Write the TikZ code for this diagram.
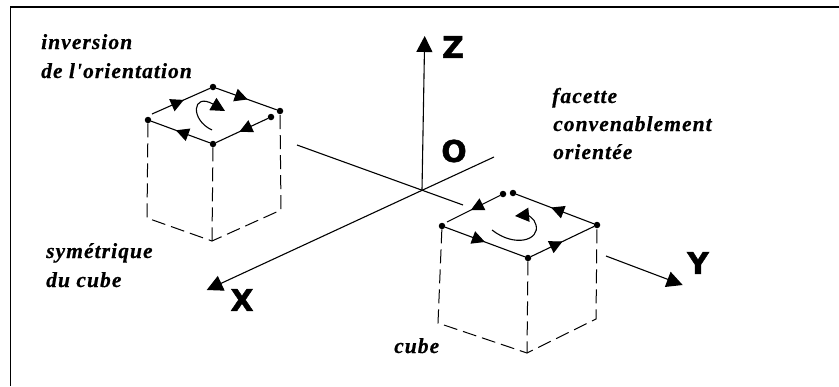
\documentclass[tikz,border=0pt]{standalone}
\usepackage{fontspec}
\setmainfont{Liberation Serif}
\newfontfamily\axfont{DejaVu Sans}[BoldFeatures={FakeBold=1.5}]
\newfontfamily\capfont{Liberation Serif}[LetterSpace=5,BoldItalicFeatures={FakeBold=0.5}]
\usetikzlibrary{arrows.meta,decorations.markings}
\tikzset{
  frameline/.style={line width=1.3pt,black},
  edgeline/.style={line width=1.1pt,black},
  hidden/.style={line width=1pt,black,dash pattern=on 14pt off 6pt},
  axisline/.style={line width=1.1pt,black},
  axtip/.style={-{Triangle[length=16pt,width=16pt]}},
  dotn/.style={circle,fill=black,inner sep=0pt,minimum size=6.5pt},
  midtip/.style={postaction={decorate,decoration={markings,mark=at position #1 with {\arrow{Triangle[length=13pt,width=13pt]}}}}},
  rotline/.style={line width=1.1pt,black,-{Triangle[length=14pt,width=14pt]}},
  caption/.style={anchor=base west,inner sep=0pt,font=\capfont\bfseries\itshape\fontsize{21.5}{21.5}\selectfont},
  axlabel/.style={inner sep=0pt,font=\axfont\bfseries\fontsize{30}{30}\selectfont},
}
\begin{document}
\begin{tikzpicture}[x=1pt,y=-1pt]
\useasboundingbox (0,0) rectangle (839,386);
% frame
\coordinate (fa) at (10.5,386);
\coordinate (fb) at (10.5,7);
\coordinate (fc) at (839,7);
\draw[frameline] (fa) -- (fb) -- (fc);
% axes
\coordinate (O) at (422,190);
\coordinate (Zt) at (424.7,36);
\coordinate (Xt) at (206.7,290);
\coordinate (Xb) at (494,157);
\coordinate (Ya) at (297,145);
\coordinate (Yb) at (463,205);
\coordinate (Yc) at (606,256);
\coordinate (Yt) at (682.7,285);
\draw[axisline,axtip] (O) -- (Zt);
\draw[axisline,axtip] (Xb) -- (Xt);
\draw[axisline] (Ya) -- (Yb);
\draw[axisline,axtip] (Yc) -- (Yt);
\node[axlabel] (lz) at (453,47) {Z};
\node[axlabel] (lo) at (454,151) {O};
\node[axlabel] (lx) at (242,300) {X};
\node[axlabel] (ly) at (698,263) {Y};
% left cube
\node[dotn] (a1) at (148,120) {};
\node[dotn] (a2) at (213,87) {};
\node[dotn] (a3) at (280,111) {};
\node[dotn] (a4) at (271,117) {};
\node[dotn] (a5) at (213,144) {};
\coordinate (a1s) at (152,114);
\coordinate (a6) at (147,218);
\coordinate (a7) at (212,241);
\coordinate (a8) at (281,210);
\draw[edgeline,midtip=0.55] (a1s) -- (a2);
\draw[edgeline,midtip=0.52] (a2) -- (a3);
\draw[edgeline,midtip=0.55] (a4) -- (a5);
\draw[edgeline,midtip=0.58] (a5) -- (a1);
\draw[hidden] (a1) -- (a6) -- (a7) -- (a8) -- (a3);
\draw[hidden] (a5) -- (a7);
\coordinate (ra) at (212,130);
\coordinate (rb) at (225,111);
\draw[rotline] (ra) .. controls (190,120) and (192,92) .. (rb);
% right cube
\node[dotn] (b1) at (442,226) {};
\node[dotn] (b2) at (503,194) {};
\node[dotn] (b3) at (513,193) {};
\node[dotn] (b4) at (597,225) {};
\node[dotn] (b5) at (528,258) {};
\coordinate (b1s) at (447,222);
\coordinate (b6) at (438,323);
\coordinate (b7) at (527,353);
\coordinate (b8) at (596,319);
\draw[edgeline,midtip=0.55] (b2) -- (b1s);
\draw[edgeline,midtip=0.5] (b1) -- (b5);
\draw[edgeline,midtip=0.5] (b5) -- (b4);
\draw[edgeline,midtip=0.55] (b4) -- (b3);
\draw[hidden] (b1) -- (b6) -- (b7) -- (b8) -- (b4);
\draw[hidden] (b5) -- (b7);
\coordinate (rc) at (492,230);
\coordinate (rd) at (515,216);
\draw[rotline] (rc) .. controls (515,248) and (540,240) .. (536,225) .. controls (535,218) and (526,215) .. (rd);
% captions
\node[caption] (t1) at (41,49) {inversion};
\node[caption] (t2) at (41,78) {de l'orientation};
\node[caption] (t3) at (552,103) {facette};
\node[caption] (t4) at (553,131) {convenablement};
\node[caption] (t5) at (553,159) {orientée};
\node[caption] (t6) at (46,258) {symétrique};
\node[caption] (t7) at (46,287) {du cube};
\node[caption] (t8) at (394,353) {cube};
\end{tikzpicture}
\end{document}
